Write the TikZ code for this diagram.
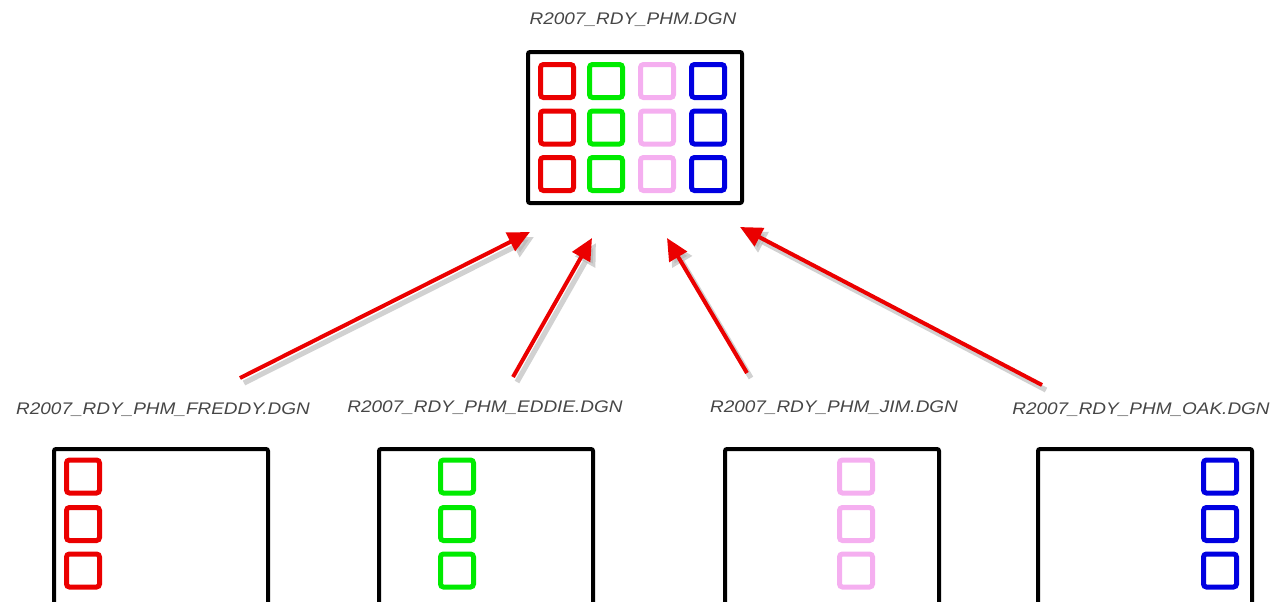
\documentclass[tikz,border=0pt]{standalone}
\usepackage{fontspec}
\setmainfont{Liberation Sans}
\usetikzlibrary{arrows.meta}
\definecolor{cred}{RGB}{235,0,0}
\definecolor{cgreen}{RGB}{0,235,0}
\definecolor{cpink}{RGB}{245,175,240}
\definecolor{cblue}{RGB}{0,0,225}
\definecolor{ctext}{RGB}{70,70,70}
\newcommand{\cadlbl}[1]{\scalebox{1.13}[1]{\itshape #1}}
\tikzset{
  frame/.style={draw=black, line width=2pt, rounded corners=1pt, minimum width=107pt, inner sep=0pt},
  sq/.style={draw=#1, line width=2.5pt, rounded corners=1.5pt, minimum width=16.5pt, minimum height=16.5pt, inner sep=0pt},
  lbl/.style={text=ctext, font=\fontsize{8.4pt}{10pt}\selectfont, inner sep=0pt},
  arr/.style={draw=cred, line width=2pt, -{Triangle[length=11pt,width=10pt]}},
  shad/.style={draw=black!30, opacity=0.6, line width=2.6pt, -{Triangle[length=11pt,width=11pt]}},
}
\begin{document}
\begin{tikzpicture}[x=0.5pt,y=-0.5pt]
\useasboundingbox (0,0) rectangle (1280,601);
\clip (0,0) rectangle (1280,601);
% top file
\node[lbl] (ttop) at (633,20) {\cadlbl{R2007\_RDY\_PHM.DGN}};
\node[frame, minimum height=75.5pt] (top) at (635,127.5) {};
\foreach \y [count=\r] in {81,127.5,174}{
  \node[sq=cred]   (t1\r) at (557,\y) {};
  \node[sq=cgreen] (t2\r) at (606,\y) {};
  \node[sq=cpink]  (t3\r) at (657,\y) {};
  \node[sq=cblue]  (t4\r) at (708,\y) {};
}
% bottom files
\node[lbl] (lfreddy) at (163,410) {\cadlbl{R2007\_RDY\_PHM\_FREDDY.DGN}};
\node[lbl] (leddie)  at (485,408) {\cadlbl{R2007\_RDY\_PHM\_EDDIE.DGN}};
\node[lbl] (ljim)    at (834,408) {\cadlbl{R2007\_RDY\_PHM\_JIM.DGN}};
\node[lbl] (loak)    at (1141,410) {\cadlbl{R2007\_RDY\_PHM\_OAK.DGN}};
\node[frame, minimum height=111pt] (bfreddy) at (161,560) {};
\node[frame, minimum height=111pt] (beddie)  at (486,560) {};
\node[frame, minimum height=111pt] (bjim)    at (832,560) {};
\node[frame, minimum height=111pt] (boak)    at (1145,560) {};
\foreach \y [count=\r] in {476.5,524,570.5}{
  \node[sq=cred]   (f\r) at (83,\y) {};
  \node[sq=cgreen] (e\r) at (457,\y) {};
  \node[sq=cpink]  (j\r) at (856,\y) {};
  \node[sq=cblue]  (o\r) at (1220,\y) {};
}
% arrow end points
\coordinate (s1) at (240,378);  \coordinate (e1) at (530,232);
\coordinate (s2) at (513,377);  \coordinate (e2) at (592,238);
\coordinate (s3) at (747,373);  \coordinate (e3) at (667,238);
\coordinate (s4) at (1042,385); \coordinate (e4) at (740,227);
% shadows
\foreach \i in {1,2,3,4}{
  \draw[shad] ([shift={(4,5)}]s\i) -- ([shift={(4,5)}]e\i);
}
% arrows
\foreach \i in {1,2,3,4}{
  \draw[arr] (s\i) -- (e\i);
}
\end{tikzpicture}
\end{document}
